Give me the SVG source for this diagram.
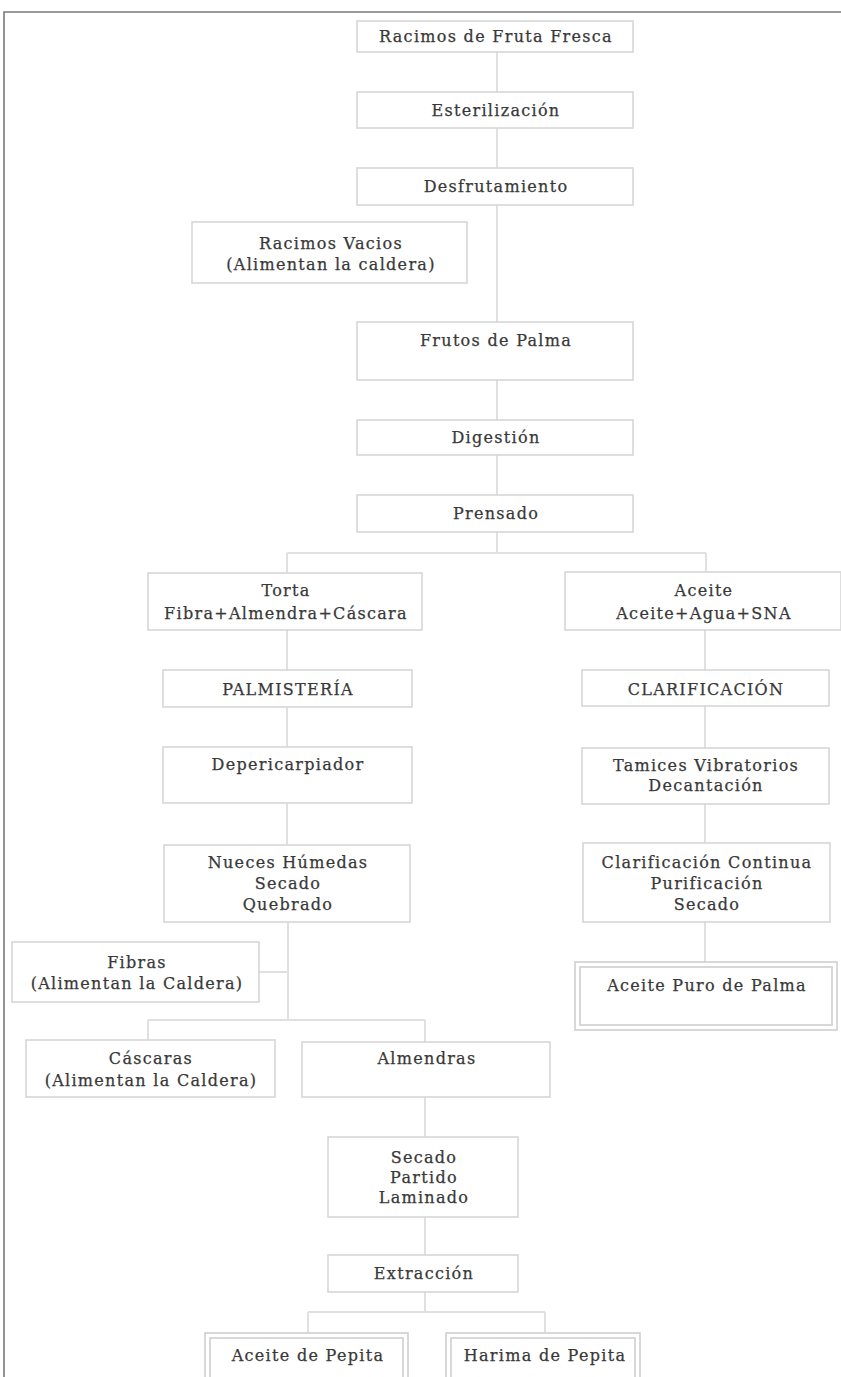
<svg xmlns="http://www.w3.org/2000/svg" width="841" height="1377" viewBox="0 0 841 1377">
<style>
.box{fill:#fff;stroke:#d6d6d6;stroke-width:1.6}
.dbl{fill:none;stroke:#cfcfcf;stroke-width:1.6}
.con{stroke:#e0e0e0;stroke-width:2;fill:none}
.frame{stroke:#7a7a7a;stroke-width:1.6;fill:none}
text{font-family:"DejaVu Serif","Liberation Serif",serif;font-size:16px;fill:#383838;stroke:#383838;stroke-width:0.25;text-anchor:middle;letter-spacing:1.3px}
</style>
<rect width="841" height="1377" fill="#fff"/>
<path class="frame" d="M4,1377 V12 H841"/>
<g id="connectors">
<path class="con" d="M497,52 V92 M497,128 V168 M497,205 V322 M497,380 V420 M497,455 V495 M497,532 V553 M287,553 H706 M287,553 V573 M706,553 V572"/>
<path class="con" d="M287,630 V670 M287,707 V747 M287,803 V845 M288,922 V1020 M259,972 H288 M148,1020 H425 M148,1020 V1040 M425,1020 V1042"/>
<path class="con" d="M425,1097 V1137 M425,1217 V1255 M425,1292 V1312 M308,1312 H545 M308,1312 V1333 M545,1312 V1333"/>
<path class="con" d="M705,630 V670 M705,706 V748 M705,804 V843 M705,922 V962"/>
</g>
<g id="n1"><rect class="box" x="357" y="21" width="276" height="31"/><text x="496" y="42">Racimos de Fruta Fresca</text></g>
<g id="n2"><rect class="box" x="357" y="92" width="276" height="36"/><text x="496" y="116">Esterilización</text></g>
<g id="n3"><rect class="box" x="357" y="168" width="276" height="37"/><text x="496" y="192">Desfrutamiento</text></g>
<g id="n4"><rect class="box" x="192" y="222" width="275" height="61"/><text x="331" y="249">Racimos Vacios</text><text x="331" y="270">(Alimentan la caldera)</text></g>
<g id="n5"><rect class="box" x="357" y="322" width="276" height="58"/><text x="496" y="346">Frutos de Palma</text></g>
<g id="n6"><rect class="box" x="357" y="420" width="276" height="35"/><text x="496" y="443">Digestión</text></g>
<g id="n7"><rect class="box" x="357" y="495" width="276" height="37"/><text x="496" y="519">Prensado</text></g>
<g id="n8"><rect class="box" x="148" y="573" width="274" height="57"/><text x="286" y="596">Torta</text><text x="286" y="619">Fibra+Almendra+Cáscara</text></g>
<g id="n9"><rect class="box" x="565" y="572" width="276" height="58"/><text x="704" y="596">Aceite</text><text x="704" y="619">Aceite+Agua+SNA</text></g>
<g id="n10"><rect class="box" x="163" y="670" width="249" height="37"/><text x="288" y="695">PALMISTERÍA</text></g>
<g id="n11"><rect class="box" x="582" y="670" width="247" height="36"/><text x="706" y="695">CLARIFICACIÓN</text></g>
<g id="n12"><rect class="box" x="163" y="747" width="249" height="56"/><text x="288" y="770">Depericarpiador</text></g>
<g id="n13"><rect class="box" x="582" y="748" width="247" height="56"/><text x="706" y="771">Tamices Vibratorios</text><text x="706" y="791">Decantación</text></g>
<g id="n14"><rect class="box" x="164" y="845" width="246" height="77"/><text x="288" y="868">Nueces Húmedas</text><text x="288" y="889">Secado</text><text x="288" y="910">Quebrado</text></g>
<g id="n15"><rect class="box" x="583" y="843" width="247" height="79"/><text x="707" y="868">Clarificación Continua</text><text x="707" y="889">Purificación</text><text x="707" y="910">Secado</text></g>
<g id="n16"><rect class="box" x="12" y="942" width="247" height="60"/><text x="137" y="968">Fibras</text><text x="137" y="989">(Alimentan la Caldera)</text></g>
<g id="n17"><rect class="dbl" x="575" y="962" width="262" height="68"/><rect class="dbl" x="580" y="967" width="252" height="58"/><text x="707" y="991">Aceite Puro de Palma</text></g>
<g id="n18"><rect class="box" x="26" y="1040" width="249" height="57"/><text x="151" y="1064">Cáscaras</text><text x="151" y="1086">(Alimentan la Caldera)</text></g>
<g id="n19"><rect class="box" x="302" y="1042" width="248" height="55"/><text x="427" y="1064">Almendras</text></g>
<g id="n20"><rect class="box" x="328" y="1137" width="190" height="80"/><text x="424" y="1163">Secado</text><text x="424" y="1183">Partido</text><text x="424" y="1203">Laminado</text></g>
<g id="n21"><rect class="box" x="328" y="1255" width="190" height="37"/><text x="424" y="1279">Extracción</text></g>
<g id="n22"><rect class="dbl" x="205" y="1333" width="203" height="50"/><rect class="dbl" x="210" y="1338" width="193" height="40"/><text x="308" y="1361">Aceite de Pepita</text></g>
<g id="n23"><rect class="dbl" x="446" y="1333" width="194" height="50"/><rect class="dbl" x="451" y="1338" width="184" height="40"/><text x="545" y="1361">Harima de Pepita</text></g>
</svg>
